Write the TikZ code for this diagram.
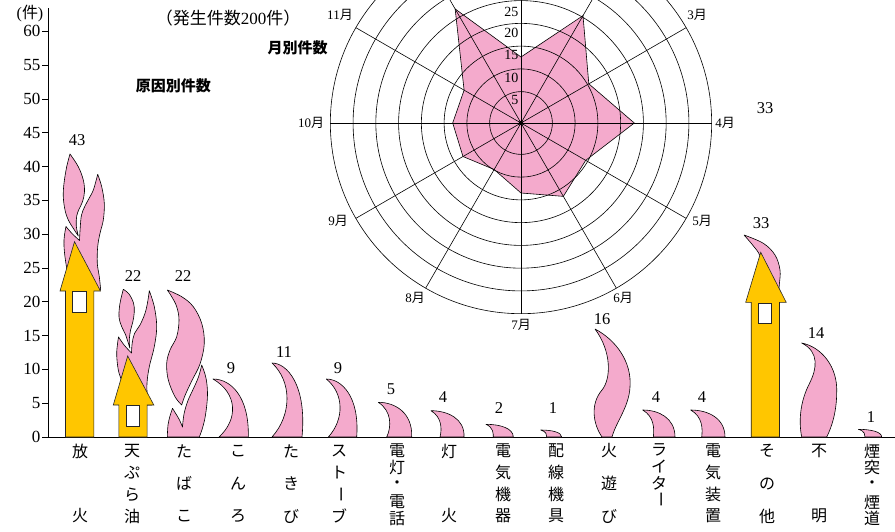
\documentclass[tikz,border=0pt]{standalone}
\usepackage{fontspec}
\setmainfont{Liberation Serif}
\newfontfamily\jp{Noto Sans CJK JP}
\definecolor{fpink}{RGB}{244,170,204}
\definecolor{hyellow}{RGB}{255,198,0}
\tikzset{
  flame/.style={fill=fpink,draw=black,line width=0.6pt,line join=round},
  housebox/.style={fill=hyellow,draw=black!85,line width=0.6pt,line join=miter},
  winbox/.style={fill=white,draw=black!85,line width=0.6pt},
  gridline/.style={draw=black,line width=0.6pt},
  num/.style={font=\fontsize{16.5}{18}\selectfont,inner sep=0pt},
  ticklab/.style={font=\fontsize{17}{19}\selectfont,inner sep=0pt,anchor=east},
  vch/.style={font=\jp\fontsize{16}{18}\selectfont,inner sep=0pt},
  monlab/.style={font=\fontsize{13}{15}\selectfont,inner sep=0pt},
  ringlab/.style={font=\fontsize{14}{16}\selectfont,inner sep=0pt,anchor=east},
  headlab/.style={font=\jp\bfseries\fontsize{15}{18}\selectfont,inner sep=0pt},
}
% crescent flame: base-left x, tip dx, height, base width, inner control x, outer extra
\newcommand\crescent[6]{%
  \begin{scope}[shift={(#1,437)},yscale=-1]
    \path[flame] (0,0) .. controls (#5,{0.3*#3}) and (#5,{0.75*#3}) .. (#2,#3)
      .. controls ({#2+0.5*(#4-(#2))},#3) and ({#4+#6},{0.7*#3}) .. (#4,0) -- cycle;
  \end{scope}}
% house: roof-left x, roof y, apex x, apex y
\newcommand\house[4]{%
  \path[housebox] ({#1+5.5},437) -- ({#1+5.5},#2) -- (#1,#2) -- (#3,#4)
     -- ({#1+40.5},#2) -- ({#1+33.8},#2) -- ({#1+33.8},437) -- cycle;
  \path[winbox] ({#1+12.6},{#2+0.5}) rectangle ({#1+25.8},{#2+21});}
% vertical label
\newcommand\vlabel[3]{%
  \foreach \c/\yy [count=\k] in {#3} {\node[vch] (#1-\k) at (#2,\yy) {\c};}}
\newcommand\vbar{\rotatebox{-90}{ー}}
\begin{document}
\begin{tikzpicture}[x=1pt,y=-1pt]
\useasboundingbox (0,0) rectangle (895,531);

% ---------- radar chart ----------
\begin{scope}
\clip (0,0) rectangle (895,531);
\coordinate (rc) at (521,123);
\foreach \a/\r [count=\k] in {0/113.3,30/78.3,60/124,90/66,120/131.7,150/65.7,180/68.3,210/67,240/53.7,270/70,300/84.7,330/74.7}
  \coordinate (p\k) at ({521+\r*cos(\a)},{123-\r*sin(\a)});
\path[fill=fpink,draw=black,line width=0.6pt,line join=miter]
  (p1)--(p2)--(p3)--(p4)--(p5)--(p6)--(p7)--(p8)--(p9)--(p10)--(p11)--(p12)--cycle;
\foreach \k in {1,...,8}
  \draw[gridline] (rc) circle[radius={8.6+22.76*\k}];
\foreach \a [count=\k] in {0,30,60,90,120,150}{
  \coordinate (sa\k) at ({521+190.7*cos(\a)},{123-190.7*sin(\a)});
  \coordinate (sb\k) at ({521-190.7*cos(\a)},{123+190.7*sin(\a)});
  \draw[gridline] (sa\k) -- (sb\k);}
\fill (rc) circle[radius=2.2];
\end{scope}
\node[ringlab] (r5) at (518.5,100) {5};
\node[ringlab] (r10) at (518.5,78) {10};
\node[ringlab] (r15) at (518.5,55) {15};
\node[ringlab] (r20) at (518.5,33) {20};
\node[ringlab] (r25) at (518.5,11.7) {25};
\node[monlab] (m3) at (697,15) {3{\jp 月}};
\node[monlab] (m4) at (725,123) {4{\jp 月}};
\node[monlab] (m5) at (702,221) {5{\jp 月}};
\node[monlab] (m6) at (623,298) {6{\jp 月}};
\node[monlab] (m7) at (521,325) {7{\jp 月}};
\node[monlab] (m8) at (415,298) {8{\jp 月}};
\node[monlab] (m9) at (338,221) {9{\jp 月}};
\node[monlab] (m10) at (311,123) {10{\jp 月}};
\node[monlab] (m11) at (340,15) {11{\jp 月}};

% ---------- titles ----------
\node[font=\fontsize{17}{19}\selectfont,inner sep=0pt] (title) at (228,18) {{\jp （発生件数}200{\jp 件）}};
\node[headlab] (hm) at (297.5,48) {月別件数};
\node[headlab] (hc) at (173.3,86) {原因別件数};
\node[font=\fontsize{16}{18}\selectfont,inner sep=0pt] (unit) at (30,14) {({\jp 件})};
\node[num] (stray) at (765,108) {33};

% ---------- axes ----------
\coordinate (o) at (48,437);
\coordinate (ytop) at (48,8);
\coordinate (xend) at (895,437);
\coordinate (xstart) at (42,437);
\draw[line width=0.9pt] (ytop) -- (o);
\draw[line width=0.9pt] (xstart) -- (xend);
\foreach \v [count=\k] in {0,5,...,60}{
  \coordinate (tk\k) at (42,{437-6.76*\v});
  \coordinate (tj\k) at (48,{437-6.76*\v});
  \draw[line width=0.8pt] (tk\k) -- (tj\k);
  \node[ticklab] (tl\k) at (40.5,{437-6.76*\v}) {\v};}

% ---------- flames ----------
% 放火 body + right tongue
\path[flame] plot[smooth,tension=0.6] coordinates {(70,288) (65,257) (64,240) (66,226.5)}
  -- plot[smooth,tension=0.6] coordinates {(66,226.5) (72,233.5) (79.5,240.5)}
  -- plot[smooth,tension=0.6] coordinates {(79.5,240.5) (80.2,228) (81.5,215) (85,206) (89,198.5) (93.5,189.5) (97.7,174.3)}
  -- plot[smooth,tension=0.6] coordinates {(97.7,174.3) (101.7,186.7) (104.3,203.3) (103.3,220) (100,233.3) (97.7,246.7) (97.3,263.3) (99.3,276.7) (100.7,290)}
  -- (70,290) -- cycle;
% 放火 left tongue
\path[flame] plot[smooth,tension=0.6] coordinates {(78.3,236) (73.3,228.3) (68.3,220) (65,210) (63.3,196.7) (64,183.3) (66.7,166.7) (70,154)}
  -- plot[smooth,tension=0.6] coordinates {(70,154) (78.3,166.7) (83.3,180) (84.5,191.7) (82.5,201.7) (79.2,208.8) (76.7,216) (76.3,226) (78.3,236)} -- cycle;
% 天ぷら油 body + right tongue
\path[flame] plot[smooth,tension=0.6] coordinates {(124,400) (121.7,381.7) (118.3,370) (116.7,353.3) (118.5,337)}
  -- plot[smooth,tension=0.6] coordinates {(118.5,337) (124.5,345.5) (131.5,353)}
  -- plot[smooth,tension=0.6] coordinates {(131.5,353) (132.2,343) (134.6,333.3) (140,325) (145,313.3) (147.7,301.7) (149.3,290.7)}
  -- plot[smooth,tension=0.6] coordinates {(149.3,290.7) (154.3,306.7) (156.7,326.7) (154.3,346.7) (149.3,366.7) (147,383.3) (147.7,396.7) (151.7,405)}
  -- (124,405) -- cycle;
% 天ぷら油 left tongue
\path[flame] plot[smooth,tension=0.6] coordinates {(129.8,348) (125.7,335) (121.7,326.7) (119,316.7) (120,303.3) (123.3,289.3)}
  -- plot[smooth,tension=0.6] coordinates {(123.3,289.3) (129,294) (133.5,303) (134.3,312) (132.8,322) (130.6,330) (129.3,340) (129.8,348)} -- cycle;
% たばこ big tongue
\path[flame] plot[smooth,tension=0.6] coordinates {(181.7,405) (175,396.7) (168.3,380) (166.7,363.3) (170,350) (176.7,336.7) (179,320) (176.7,306.7) (171.7,296.7) (167.3,290)}
  -- plot[smooth,tension=0.6] coordinates {(167.3,290) (181.7,296.7) (193.3,306.7) (201.7,323.3) (204.3,343.3) (200,364) (191.7,381) (185,395.5) (181.7,405)} -- cycle;
% たばこ lower flames
\path[flame] plot[smooth,tension=0.6] coordinates {(167.3,437) (168,425) (170,416) (172.5,408.3)}
  -- plot[smooth,tension=0.6] coordinates {(172.5,408.3) (176,414) (179.5,420) (182.5,427)}
  -- plot[smooth,tension=0.6] coordinates {(182.5,427) (184,414) (187.8,401) (192.8,390) (198.5,377) (201.7,365)}
  -- plot[smooth,tension=0.6] coordinates {(201.7,365) (206,378) (207.5,395) (205.5,415) (202.5,428) (199.3,437)} -- cycle;
% small crescents
\crescent{219}{-6}{58}{29.3}{19}{1}     % こんろ
\crescent{272}{0}{74}{30}{20}{5}        % たきび
\crescent{328.3}{-2}{58}{28.4}{16}{3}   % ストーブ
\crescent{386.7}{-8.4}{34.7}{25}{5}{1}  % 電灯・電話
\crescent{440}{-9}{26.3}{24}{2}{1}      % 灯火
\crescent{493.3}{-7.3}{12.7}{20}{0}{0}  % 電気機器
\crescent{546.7}{-6}{7}{15}{0}{0}       % 配線機具
\crescent{653.3}{-10.6}{27}{21.7}{1}{0} % ライター
\crescent{701.7}{-11}{27}{23.3}{1}{0}   % 電気装置
\crescent{865}{-6.7}{7.7}{16.7}{0}{0}   % 煙突・煙道
% 火遊び
\begin{scope}[shift={(602,437)},yscale=-1]
\path[flame] (0,0) .. controls (-9,13) and (-12,33) .. (0,47) .. controls (9,58) and (10,85) .. (-7,108)
  .. controls (14,97) and (30,75) .. (28,50) .. controls (27,30) and (14,15) .. (10,0) -- cycle;
\end{scope}
% 不明
\begin{scope}[shift={(801.7,437)},yscale=-1]
\path[flame] (0,0) .. controls (-3,15) and (-2,35) .. (8,54) .. controls (15,68) and (18,85) .. (0,94)
  .. controls (20,90) and (36,70) .. (35,45) .. controls (35,25) and (30,10) .. (25,0) -- cycle;
\end{scope}
% その他 flame
\path[flame] plot[smooth,tension=0.6] coordinates {(744,235) (763.3,243.3) (775,255) (780,270) (779.3,285) (778,300)}
  -- (766,300) -- plot[smooth,tension=0.6] coordinates {(766,300) (764,275) (760,256) (753,245.5) (744,235)} -- cycle;

% ---------- houses ----------
\house{60}{291}{74.5}{241.7}
\house{113.3}{405}{127.7}{356}
\house{745.7}{302.3}{760.7}{252.3}

% ---------- value labels ----------
\node[num] (n1) at (77,140) {43};
\node[num] (n2) at (133,276) {22};
\node[num] (n3) at (183,276) {22};
\node[num] (n4) at (231,368) {9};
\node[num] (n5) at (284,352) {11};
\node[num] (n6) at (338,368) {9};
\node[num] (n7) at (391,389) {5};
\node[num] (n8) at (443,397) {4};
\node[num] (n9) at (499,408) {2};
\node[num] (n10) at (553,408) {1};
\node[num] (n11) at (602,319) {16};
\node[num] (n12) at (656,397) {4};
\node[num] (n13) at (702,397) {4};
\node[num] (n14) at (761,223) {33};
\node[num] (n15) at (816,333) {14};
\node[num] (n16) at (871,417) {1};

% ---------- category labels ----------
\vlabel{c1}{80}{放/451,火/516}
\vlabel{c2}{132}{天/451,ぷ/472.7,ら/494.3,油/516}
\vlabel{c3}{184}{た/451,ば/483.5,こ/516}
\vlabel{c4}{238}{こ/451,ん/483.5,ろ/516}
\vlabel{c5}{291}{た/451,き/483.5,び/516}
\vlabel{c6}{339}{ス/451,ト/472.7,{\vbar}/494.3,ブ/516}
\vlabel{c7}{397}{電/451,灯/467.5,・/485,電/502,話/518.5}
\vlabel{c8}{449}{灯/451,火/516}
\vlabel{c9}{503}{電/451,気/472.7,機/494.3,器/516}
\vlabel{c10}{556}{配/451,線/472.7,機/494.3,具/516}
\vlabel{c11}{609}{火/451,遊/483.5,び/516}
\vlabel{c12}{659}{ラ/450,イ/466.7,タ/483.3,{\vbar}/499}
\vlabel{c13}{713}{電/451,気/472.7,装/494.3,置/516}
\vlabel{c14}{767}{そ/451,の/483.5,他/516}
\vlabel{c15}{819}{不/451,明/516}
\vlabel{c16}{872}{煙/451,突/467.5,・/485,煙/502,道/518.5}
\end{tikzpicture}
\end{document}
